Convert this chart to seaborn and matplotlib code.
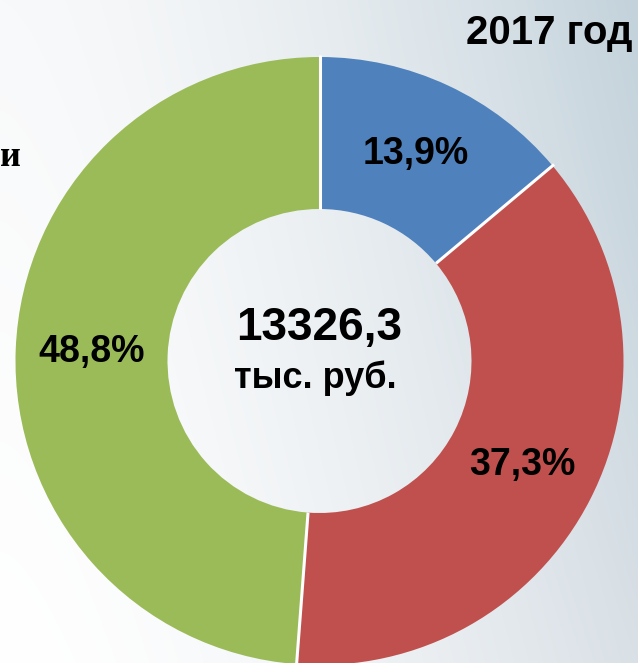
import numpy as np
import matplotlib
matplotlib.use("Agg")
import matplotlib.pyplot as plt
import matplotlib.colors as mcolors
import seaborn as sns

# ---- data ----
categories = ["A", "B", "C"]
shares = [13.9, 37.3, 48.8]
colors_hex = ["#4F81BD", "#C0504D", "#9BBB59"]
total_value = "13326,3"
total_unit = "тыс. руб."
title_text = "2017 год"
side_text = "и"

sns.set_theme(style="white")
plt.rcParams['font.family'] = ['Liberation Sans', 'DejaVu Sans']

W, H = 638, 663
fig = plt.figure(figsize=(W / 100, H / 100), dpi=100)
ax = fig.add_axes([0, 0, 1, 1])

# background gradient
tl = np.array(mcolors.to_rgb("#ffffff"))
tr = np.array(mcolors.to_rgb("#d9e0e6"))
bl = np.array(mcolors.to_rgb("#f8f9fa"))
br = np.array(mcolors.to_rgb("#c3d2db"))
xs = np.linspace(0, 1, 320) ** 1.6
ys = np.linspace(0, 1, 330)
X, Y = np.meshgrid(xs, ys)
img = ((1 - X) * (1 - Y))[..., None] * tl + (X * (1 - Y))[..., None] * tr \
    + ((1 - X) * Y)[..., None] * bl + (X * Y)[..., None] * br
ax.imshow(img, extent=(0, W, H, 0), aspect='auto', zorder=0, interpolation='bilinear')

cx, cy = 319.5, H - 361
R = 304
ring = 152
palette = sns.color_palette(colors_hex)

wedges, texts, autotexts = ax.pie(
    shares, colors=palette, startangle=90, counterclock=False,
    radius=R, center=(cx, cy),
    wedgeprops=dict(width=ring, edgecolor='none', linewidth=0),
    autopct=lambda p: f"{p:.1f}".replace('.', ',') + '%',
    pctdistance=0.75,
    textprops=dict(fontsize=27, fontweight='bold', color='black'),
)
for t in autotexts:
    t.set_zorder(5)

# white separators between wedges
cum = np.cumsum([0] + shares[:-1])
for c in cum:
    ang = np.deg2rad(90 - c / sum(shares) * 360)
    r0, r1 = R - ring, R + 2
    ax.plot([cx + r0 * np.cos(ang), cx + r1 * np.cos(ang)],
            [cy + r0 * np.sin(ang), cy + r1 * np.sin(ang)],
            color='white', lw=2.2, zorder=4, solid_capstyle='butt')

ax.text(cx, H - 328, total_value, ha='center', va='center',
        fontsize=33, fontweight='bold', color='black')
ax.text(cx - 4, H - 378, total_unit, ha='center', va='center',
        fontsize=26, fontweight='bold', color='black')
ax.text(633, H - 33, title_text, ha='right', va='center',
        fontsize=29, fontweight='bold', color='black')
ax.text(0, H - 158, side_text, ha='left', va='center',
        fontsize=26, fontweight='bold', color='black',
        family=['Liberation Serif', 'DejaVu Serif'])

ax.set_xlim(0, W)
ax.set_ylim(0, H)
ax.set_aspect('auto')
ax.axis('off')

fig.savefig("out.png", dpi=100)
